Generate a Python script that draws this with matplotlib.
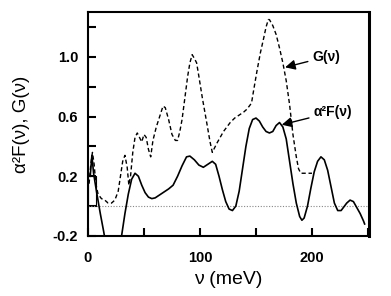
import matplotlib
matplotlib.use("Agg")
import matplotlib.pyplot as plt
from matplotlib.ticker import MultipleLocator, FixedLocator

# ── data ─────────────────────────────────────────────────────────────────────
a2f_x = [2, 3.5, 5, 8, 11, 14, 17, 20, 25, 28, 30, 33, 36, 39, 42, 45, 48, 51,
         54, 57, 60, 64, 68, 72, 76, 80, 84, 88, 91, 95, 99, 103, 107, 111, 114,
         117, 120, 123, 126, 129, 132, 135, 138, 141, 144, 147, 150, 153, 156,
         159, 162, 165, 168, 171, 174, 177, 180, 183, 186, 189, 191, 193, 196,
         199, 202, 205, 208, 211, 214, 217, 220, 223, 226, 229, 231, 234, 237,
         240, 243, 246, 247]
a2f_y = [0.2, 0.34, 0.22, 0.08, -0.05, -0.17, -0.3, -0.4, -0.4, -0.3, -0.2,
         -0.05, 0.08, 0.18, 0.22, 0.2, 0.14, 0.09, 0.06, 0.05, 0.055, 0.075,
         0.095, 0.115, 0.14, 0.2, 0.27, 0.33, 0.335, 0.31, 0.275, 0.26, 0.28,
         0.3, 0.28, 0.2, 0.11, 0.03, -0.02, -0.03, 0.0, 0.1, 0.25, 0.4, 0.52,
         0.58, 0.59, 0.57, 0.53, 0.5, 0.49, 0.5, 0.54, 0.56, 0.53, 0.45, 0.3,
         0.15, 0.02, -0.07, -0.095, -0.08, 0.0, 0.12, 0.23, 0.3, 0.33, 0.31,
         0.24, 0.13, 0.02, -0.03, -0.03, 0.0, 0.02, 0.04, 0.03, -0.01, -0.05,
         -0.1, -0.12]

g_x = [1, 2.5, 4, 5.5, 7, 9, 12, 15, 18, 21, 24, 27, 29, 31, 33, 35, 36.5, 38,
       40, 42, 44, 46, 48, 50, 52, 54, 56, 58, 61, 64, 67, 69, 72, 75, 78, 80,
       82, 84, 86.6, 89, 91, 93, 95, 97, 99, 102, 106, 109, 111, 115, 118, 121,
       124, 127, 131, 135, 139, 142, 146, 148, 151, 154, 157, 159, 161, 162,
       165, 168, 171, 174, 177, 180, 183, 186, 188, 190, 195, 200]
g_y = [0.15, 0.28, 0.36, 0.28, 0.15, 0.08, 0.05, 0.04, 0.02, 0.02, 0.04, 0.1,
       0.2, 0.3, 0.34, 0.26, 0.14, 0.2, 0.36, 0.46, 0.49, 0.46, 0.43, 0.48,
       0.46, 0.38, 0.33, 0.44, 0.53, 0.6, 0.67, 0.66, 0.58, 0.48, 0.44, 0.44,
       0.5, 0.58, 0.73, 0.87, 0.96, 1.015, 0.99, 0.96, 0.87, 0.73, 0.56, 0.43,
       0.36, 0.42, 0.46, 0.5, 0.53, 0.56, 0.59, 0.61, 0.63, 0.65, 0.69, 0.78,
       0.91, 1.03, 1.13, 1.2, 1.25, 1.25, 1.21, 1.15, 1.06, 0.96, 0.84, 0.68,
       0.48, 0.33, 0.25, 0.22, 0.22, 0.22]

box_x = [0, 0, 7.5, 7.5]
box_y = [0, 0.2, 0.2, 0]

x_ticks = [0, 100, 200]
y_ticks = [-0.2, 0.2, 0.6, 1.0]

# ── figure ───────────────────────────────────────────────────────────────────
plt.rcParams["font.family"] = ["Liberation Sans", "DejaVu Sans"]
plt.rcParams["font.weight"] = "bold"

fig = plt.figure(figsize=(3.91, 2.96), dpi=100)
ax = fig.add_axes([0.225, 0.203, 0.719, 0.756])

ax.axhline(0, color="#888888", lw=0.8, ls=(0, (1, 1.5)))
ax.plot(box_x, box_y, color="black", lw=0.8)
ax.plot(g_x, g_y, color="black", lw=1.0, ls=(0, (3, 2)))
ax.plot(a2f_x, a2f_y, color="black", lw=1.2)

ax.set_xlim(0, 251)
ax.set_ylim(-0.2, 1.3)

ax.xaxis.set_major_locator(FixedLocator(x_ticks))
ax.xaxis.set_minor_locator(MultipleLocator(50))
ax.yaxis.set_major_locator(FixedLocator(y_ticks))
ax.yaxis.set_minor_locator(MultipleLocator(0.2))
ax.set_yticklabels([f"{v:.1f}" for v in y_ticks])
ax.tick_params(which="both", direction="in", width=1.5, top=False, right=False,
               labelsize=10.5, length=6)
ax.tick_params(axis="x", pad=11)
ax.tick_params(axis="y", pad=7)
for s in ax.spines.values():
    s.set_linewidth(1.5)
ax.spines["right"].set_linewidth(2.2)

ax.set_xlabel("ν (meV)", fontsize=14, va="center")
ax.xaxis.set_label_coords(0.5, -0.196)
ax.set_ylabel("α²F(ν), G(ν)", fontsize=13.5, va="center")
ax.yaxis.set_label_coords(-0.238, 0.5)

arrow = dict(arrowstyle="-|>", color="black", lw=1.0, mutation_scale=15,
             shrinkA=1, shrinkB=0)
ax.annotate("G(ν)", xy=(176, 0.93), xytext=(200, 1.0), fontsize=10,
            va="center", arrowprops=arrow)
ax.annotate("α²F(ν)", xy=(173, 0.545), xytext=(201, 0.63), fontsize=10,
            va="center", arrowprops=arrow)

fig.savefig("out.png", dpi=100)
